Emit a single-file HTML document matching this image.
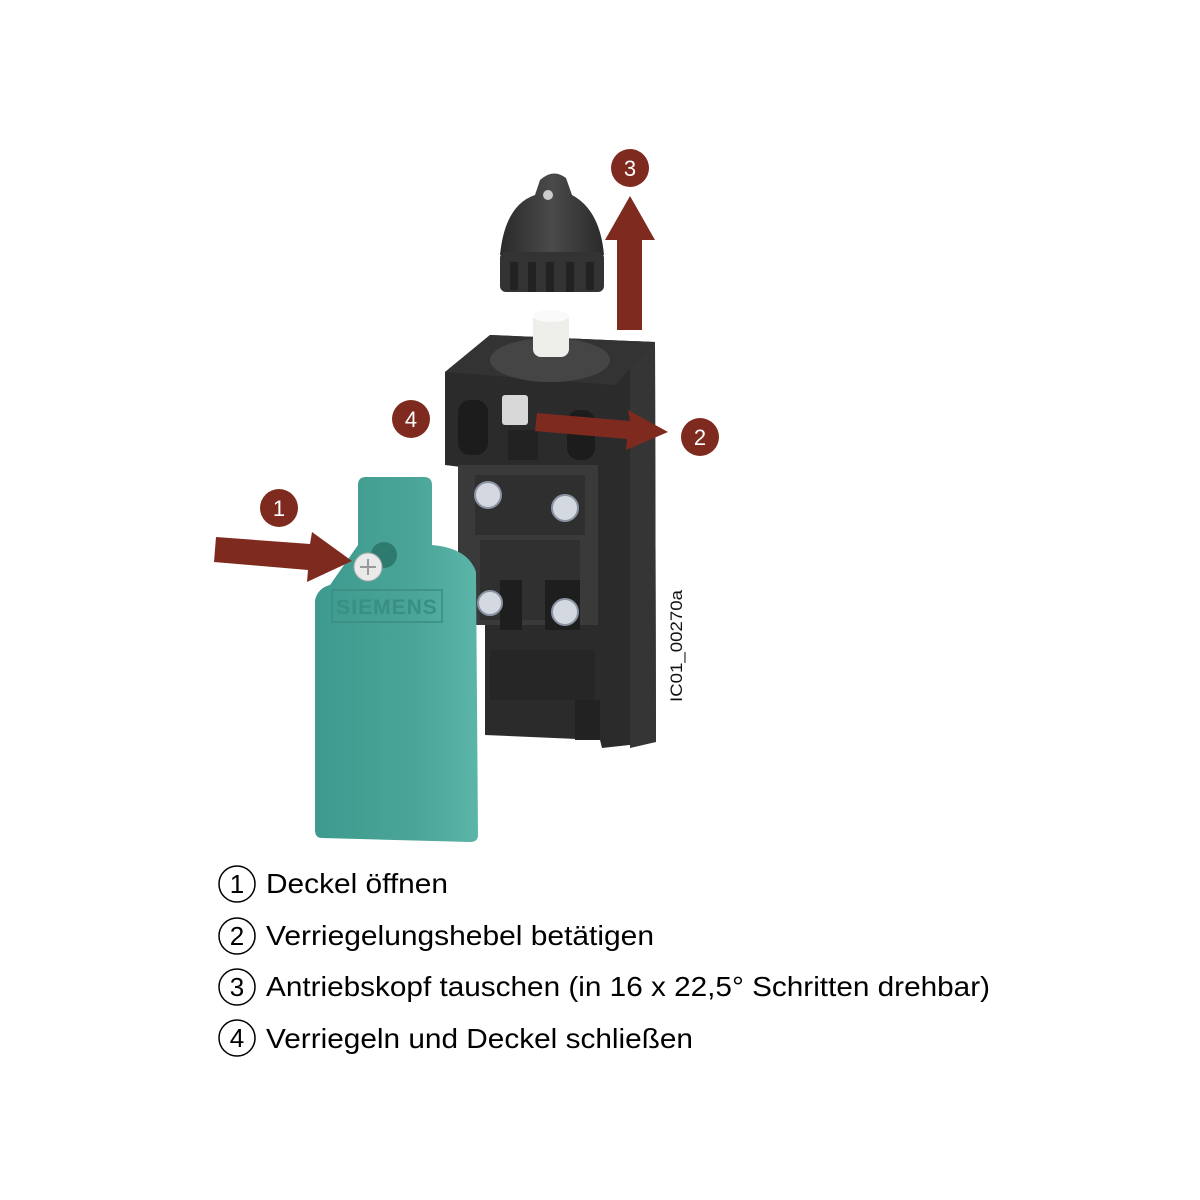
<!DOCTYPE html>
<html><head><meta charset="utf-8"><style>
html,body{margin:0;padding:0;background:#fff;}
svg{display:block;}
text{font-family:"Liberation Sans",Arial,sans-serif;}
</style></head><body>
<svg width="1200" height="1200" viewBox="0 0 1200 1200" xmlns="http://www.w3.org/2000/svg">
<defs>
<linearGradient id="teal" x1="0" y1="0" x2="1" y2="0">
<stop offset="0" stop-color="#3e9a8e"/><stop offset="0.6" stop-color="#4aa598"/><stop offset="1" stop-color="#5bb5a8"/>
</linearGradient>
<linearGradient id="head" x1="0" y1="0" x2="1" y2="0">
<stop offset="0" stop-color="#2a2a2a"/><stop offset="0.5" stop-color="#4a4a4a"/><stop offset="1" stop-color="#2a2a2a"/>
</linearGradient>
</defs>
<!-- actuator head -->
<path d="M500,255 Q505,205 535,195 L540,180 Q553,168 566,178 L572,195 Q600,210 604,255 Z" fill="url(#head)"/>
<rect x="500" y="252" width="104" height="40" rx="6" fill="#333"/>
<g fill="#222"><rect x="510" y="262" width="8" height="28"/><rect x="528" y="262" width="8" height="30"/><rect x="546" y="262" width="8" height="30"/><rect x="566" y="262" width="8" height="30"/><rect x="586" y="262" width="8" height="28"/></g>
<circle cx="548" cy="195" r="5" fill="#ccc"/>
<!-- body -->
<polygon points="445,372 490,335 655,342 656,742 602,748 600,740 485,735 485,470 445,465" fill="#2b2b2b"/>
<polygon points="630,342 655,342 656,742 630,748" fill="#353535"/>
<polygon points="445,372 490,335 655,342 615,385" fill="#333"/>
<ellipse cx="550" cy="360" rx="60" ry="22" fill="#454545"/>
<!-- plunger -->
<rect x="533" y="312" width="36" height="45" rx="8" fill="#eeeeea"/>
<ellipse cx="551" cy="316" rx="18" ry="6" fill="#fafafa"/>
<!-- upper details -->
<rect x="458" y="400" width="30" height="55" rx="12" fill="#1c1c1c"/>
<rect x="567" y="410" width="28" height="50" rx="12" fill="#1c1c1c"/>
<rect x="502" y="395" width="26" height="30" rx="3" fill="#d8d8d8"/>
<rect x="508" y="430" width="30" height="30" fill="#222"/>
<!-- terminal bay -->
<rect x="458" y="465" width="140" height="160" fill="#3a3a3a"/>
<rect x="475" y="475" width="110" height="60" fill="#2f2f2f"/>
<rect x="480" y="540" width="100" height="80" fill="#303030"/>
<rect x="500" y="580" width="22" height="50" fill="#1e1e1e"/>
<rect x="545" y="580" width="35" height="50" fill="#1e1e1e"/>
<rect x="490" y="650" width="105" height="50" fill="#262626"/>
<rect x="575" y="700" width="25" height="40" fill="#222"/>
<g fill="#d4d8e0" stroke="#8a93a3" stroke-width="2">
<circle cx="488" cy="495" r="13"/><circle cx="565" cy="508" r="13"/><circle cx="490" cy="603" r="12"/><circle cx="565" cy="612" r="13"/>
</g>
<!-- cover -->
<path d="M358,485 Q358,477 366,477 L424,477 Q432,477 432,485 L432,545 Q468,548 476,572 L478,835 Q478,842 470,842 L322,838 Q315,838 315,830 L315,600 Q318,588 330,585 L358,545 Z" fill="url(#teal)"/>
<rect x="332" y="590" width="110" height="32" fill="none" stroke="#3b8b80" stroke-width="1.5"/>
<text x="387" y="614" font-size="21" font-weight="bold" fill="#3a8f83" text-anchor="middle" letter-spacing="1">SIEMENS</text>
<circle cx="384" cy="555" r="13" fill="#2d7a6f"/>
<circle cx="368" cy="567" r="14" fill="#eaeaea" stroke="#aaa"/>
<path d="M360,567h16M368,559v16" stroke="#999" stroke-width="2"/>
<!-- arrows -->
<g fill="#7f2a1e">
<polygon points="617,330 642,330 642,240 655,240 630,196 605,240 617,240"/>
<polygon points="537,413 630,421 628,410 668,432 626,450 627,439 535,431"/>
<polygon points="216,537 310,544 312,532 352,561 307,582 308,570 214,562"/>
<circle cx="630" cy="168" r="19"/><circle cx="700" cy="437" r="19"/><circle cx="411" cy="419" r="19"/><circle cx="279" cy="508" r="19"/>
</g>
<g fill="#fff" font-size="22" text-anchor="middle">
<text x="630" y="176">3</text><text x="700" y="445">2</text><text x="411" y="427">4</text><text x="279" y="516">1</text>
</g>
<text x="0" y="0" font-size="17" fill="#111" transform="translate(682,702) rotate(-90)" textLength="112" lengthAdjust="spacingAndGlyphs">IC01_00270a</text>
<!-- legend -->
<g fill="none" stroke="#000" stroke-width="1.5">
<circle cx="237" cy="884" r="18"/><circle cx="237" cy="936" r="18"/><circle cx="237" cy="987" r="18"/><circle cx="237" cy="1038" r="18"/>
</g>
<g font-size="26" text-anchor="middle" fill="#000">
<text x="237" y="893">1</text><text x="237" y="945">2</text><text x="237" y="996">3</text><text x="237" y="1047">4</text>
</g>
<g font-size="28" fill="#000">
<text x="266" y="893" textLength="182" lengthAdjust="spacingAndGlyphs">Deckel öffnen</text>
<text x="266" y="945" textLength="388" lengthAdjust="spacingAndGlyphs">Verriegelungshebel betätigen</text>
<text x="266" y="996" textLength="724" lengthAdjust="spacingAndGlyphs">Antriebskopf tauschen (in 16 x 22,5° Schritten drehbar)</text>
<text x="266" y="1048" textLength="427" lengthAdjust="spacingAndGlyphs">Verriegeln und Deckel schließen</text>
</g>
</svg>
</body></html>
